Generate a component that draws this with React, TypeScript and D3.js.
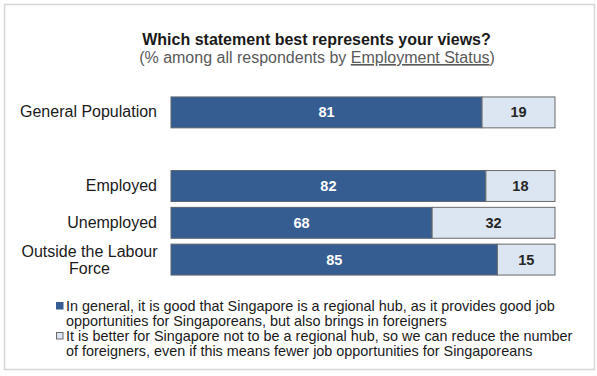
import React from "react";
import * as d3 from "d3";

const categories = ["General Population", "", "Employed", "Unemployed", "Outside the Labour Force"];
const goodHub = [81, null, 82, 68, 85];
const notHub = [19, null, 18, 32, 15];
const legendLabels = [
  ["In general, it is good that Singapore is a regional hub, as it provides good job", "opportunities for Singaporeans, but also brings in foreigners"],
  ["It is better for Singapore not to be a regional hub, so we can reduce the number", "of foreigners, even if this means fewer job opportunities for Singaporeans"],
];
const labelLines: Record<string, string[]> = {
  "Outside the Labour Force": ["Outside the Labour", "Force"],
};

const W = 597;
const H = 376;
const DARK = "#365d92";
const LIGHT = "#dce6f2";
const FONT = "Liberation Sans, Arial, sans-serif";

export default function App() {
  const x = d3.scaleLinear().domain([0, 100]).range([171, 555]);
  const y = d3.scaleBand<string>().domain(categories.map((c, i) => c || "gap" + i)).range([94, 278]).paddingInner(0.16).paddingOuter(0.08);
  const bw = y.bandwidth();
  return (
    <div style={{ position: "fixed", left: 0, top: 0 }}>
      <svg width={W} height={H} style={{ display: "block", background: "#fff" }} fontFamily={FONT}>
        <rect x={4.5} y={4.5} width={590} height={365} fill="#fff" stroke="#d6d6d6" strokeWidth={1.5} />
        <text x={316.5} y={45} textAnchor="middle" fontSize={16} fontWeight="bold" fill="#1a1a1a">
          Which statement best represents your views?
        </text>
        <text x={317} y={63} textAnchor="middle" fontSize={16} fill="#595959">
          (% among all respondents by <tspan textDecoration="underline" style={{ textDecoration: "underline" }}>Employment Status</tspan>)
        </text>
        {categories.map((c, i) => {
          const key = c || "gap" + i;
          const a = goodHub[i];
          const b = notHub[i];
          if (a == null || b == null) return null;
          const y0 = y(key)!;
          const cy = y0 + bw / 2;
          const lines = labelLines[c] || [c];
          return (
            <g key={key}>
              <rect x={x(0)} y={y0} width={x(a) - x(0)} height={bw} fill={DARK} stroke="#5a6470" strokeWidth={1} />
              <rect x={x(a)} y={y0} width={x(a + b) - x(a)} height={bw} fill={LIGHT} stroke="#6a6a6a" strokeWidth={1} />
              <text x={(x(0) + x(a)) / 2} y={cy + 5} textAnchor="middle" fontSize={14.5} fontWeight="bold" fill="#fff">{a}</text>
              <text x={(x(a) + x(a + b)) / 2} y={cy + 5} textAnchor="middle" fontSize={14.5} fontWeight="bold" fill="#262626">{b}</text>
              {lines.length === 1 ? (
                <text x={157} y={cy + 5} textAnchor="end" fontSize={16} fill="#1a1a1a">{c}</text>
              ) : (
                <text x={89.5} y={cy - 3} textAnchor="middle" fontSize={16} fill="#1a1a1a">
                  {lines.map((l, j) => (
                    <tspan key={j} x={89.5} dy={j === 0 ? 0 : 17}>{l}</tspan>
                  ))}
                </text>
              )}
            </g>
          );
        })}
        {legendLabels.map((lines, i) => {
          const base = 311 + i * 30;
          return (
            <g key={i}>
              <rect x={56.5} y={base - 8.5} width={6.5} height={6.5} fill={i === 0 ? DARK : LIGHT} stroke={i === 0 ? DARK : "#6a6a6a"} strokeWidth={1} />
              {lines.map((l, j) => (
                <text key={j} x={66} y={base + j * 15} fontSize={14.4} fill="#1a1a1a">{l}</text>
              ))}
            </g>
          );
        })}
      </svg>
    </div>
  );
}
